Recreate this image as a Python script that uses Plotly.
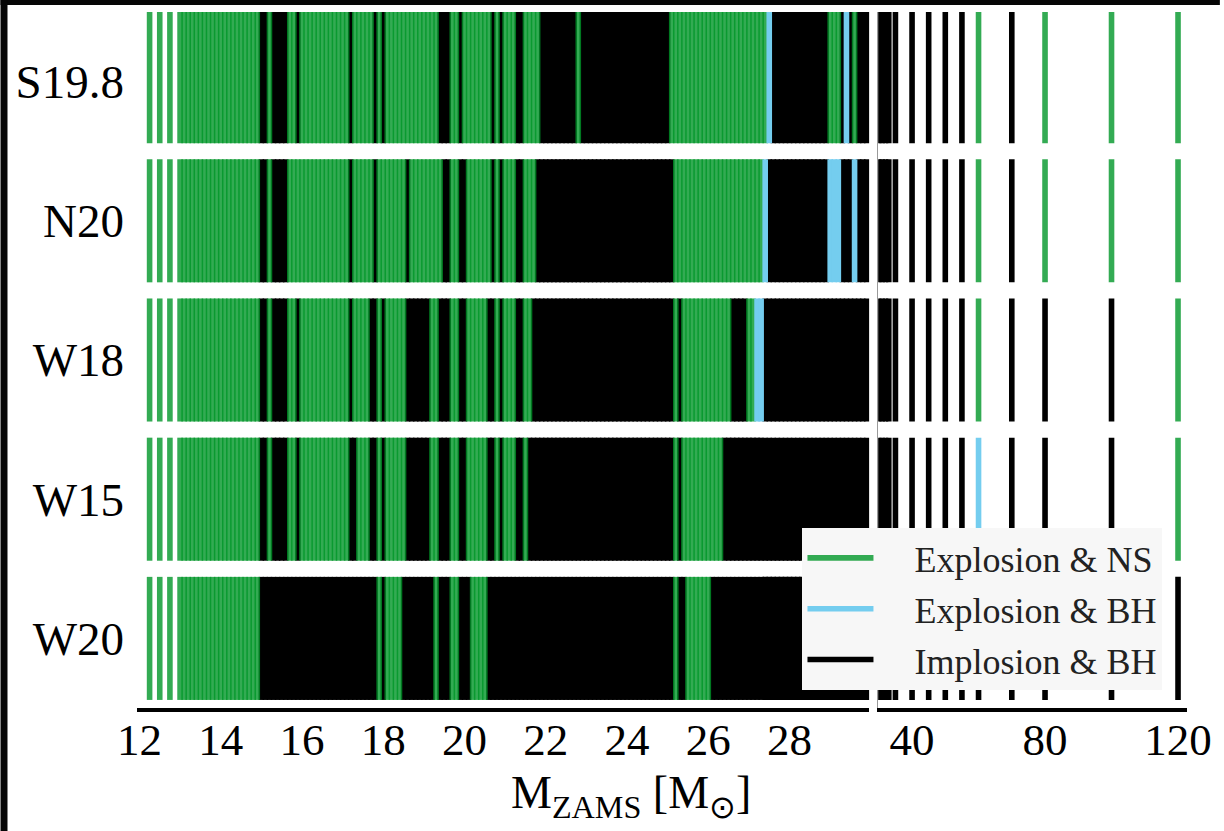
import plotly.graph_objects as go

# ---------------- data ----------------
ENGINES = ["W20", "W15", "W18", "N20", "S19.8"]          # bottom -> top rows

LOW_MASSES = [12.25, 12.5, 12.75]
GRID_MASSES = [
    13.0, 13.1, 13.2, 13.3, 13.4, 13.5, 13.6, 13.7, 13.8, 13.9,
    14.0, 14.1, 14.2, 14.3, 14.4, 14.5, 14.6, 14.7, 14.8, 14.9,
    15.0, 15.1, 15.2, 15.3, 15.4, 15.5, 15.6, 15.7, 15.8, 15.9,
    16.0, 16.1, 16.2, 16.3, 16.4, 16.5, 16.6, 16.7, 16.8, 16.9,
    17.0, 17.1, 17.2, 17.3, 17.4, 17.5, 17.6, 17.7, 17.8, 17.9,
    18.0, 18.1, 18.2, 18.3, 18.4, 18.5, 18.6, 18.7, 18.8, 18.9,
    19.0, 19.1, 19.2, 19.3, 19.4, 19.5, 19.6, 19.7, 19.8, 19.9,
    20.0, 20.1, 20.2, 20.3, 20.4, 20.5, 20.6, 20.7, 20.8, 20.9,
    21.0, 21.1, 21.2, 21.3, 21.4, 21.5, 21.6, 21.7, 21.8, 21.9,
    22.0, 22.1, 22.2, 22.3, 22.4, 22.5, 22.6, 22.7, 22.8, 22.9,
    23.0, 23.1, 23.2, 23.3, 23.4, 23.5, 23.6, 23.7, 23.8, 23.9,
    24.0, 24.1, 24.2, 24.3, 24.4, 24.5, 24.6, 24.7, 24.8, 24.9,
    25.0, 25.1, 25.2, 25.3, 25.4, 25.5, 25.6, 25.7, 25.8, 25.9,
    26.0, 26.1, 26.2, 26.3, 26.4, 26.5, 26.6, 26.7, 26.8, 26.9,
    27.0, 27.1, 27.2, 27.3, 27.4, 27.5, 27.6, 27.7, 27.8, 27.9,
    28.0, 28.1, 28.2, 28.3, 28.4, 28.5, 28.6, 28.7, 28.8, 28.9,
    29.0, 29.1, 29.2, 29.3, 29.4, 29.5, 29.6, 29.7, 29.8, 29.9,
    30.0,
]
HIGH_MASSES = [31, 32, 33, 35, 40, 45, 50, 55, 60, 70, 80, 100, 120]

# outcome runs (first mass, last mass, code): G = explosion & NS,
# B = explosion & BH, K = implosion & BH
RUNS_S198 = [
    (12.25, 14.9, "G"), (15.0, 15.1, "K"), (15.2, 15.2, "G"), (15.3, 15.6, "K"),
    (15.7, 15.8, "G"), (15.9, 15.9, "K"), (16.0, 17.1, "G"), (17.2, 17.2, "K"),
    (17.3, 17.7, "G"), (17.8, 17.8, "K"), (17.9, 17.9, "G"), (18.0, 18.0, "K"),
    (18.1, 19.3, "G"), (19.4, 19.6, "K"), (19.7, 19.8, "G"), (19.9, 19.9, "K"),
    (20.0, 20.6, "G"), (20.7, 20.7, "K"), (20.8, 20.8, "G"), (20.9, 20.9, "K"),
    (21.0, 21.2, "G"), (21.3, 21.4, "K"), (21.5, 21.8, "G"), (21.9, 22.7, "K"),
    (22.8, 22.8, "G"), (22.9, 25.0, "K"), (25.1, 27.4, "G"), (27.5, 27.5, "B"),
    (27.6, 28.9, "K"), (29.0, 29.2, "G"), (29.3, 29.3, "K"), (29.4, 29.4, "B"),
    (29.5, 29.5, "K"), (29.6, 29.6, "G"), (29.7, 30.0, "K"),
]
RUNS_N20 = [
    (12.25, 14.9, "G"), (15.0, 15.1, "K"), (15.2, 15.2, "G"), (15.3, 15.6, "K"),
    (15.7, 17.1, "G"), (17.2, 17.2, "K"), (17.3, 17.7, "G"), (17.8, 17.8, "K"),
    (17.9, 18.5, "G"), (18.6, 18.6, "K"), (18.7, 19.4, "G"), (19.5, 19.6, "K"),
    (19.7, 19.8, "G"), (19.9, 20.0, "K"), (20.1, 20.6, "G"), (20.7, 20.7, "K"),
    (20.8, 20.8, "G"), (20.9, 20.9, "K"), (21.0, 21.2, "G"), (21.3, 21.4, "K"),
    (21.5, 21.7, "G"), (21.8, 25.1, "K"), (25.2, 27.3, "G"), (27.4, 27.4, "B"),
    (27.5, 28.9, "K"), (29.0, 29.2, "B"), (29.3, 29.5, "K"), (29.6, 29.6, "B"),
    (29.7, 30.0, "K"),
]
RUNS_W18 = [
    (12.25, 14.9, "G"), (15.0, 15.1, "K"), (15.2, 15.2, "G"), (15.3, 15.6, "K"),
    (15.7, 15.8, "G"), (15.9, 15.9, "K"), (16.0, 17.1, "G"), (17.2, 17.2, "K"),
    (17.3, 17.6, "G"), (17.7, 17.8, "K"), (17.9, 17.9, "G"), (18.0, 18.0, "K"),
    (18.1, 18.5, "G"), (18.6, 19.1, "K"), (19.2, 19.3, "G"), (19.4, 19.6, "K"),
    (19.7, 19.8, "G"), (19.9, 20.0, "K"), (20.1, 20.5, "G"), (20.6, 20.7, "K"),
    (20.8, 20.8, "G"), (20.9, 20.9, "K"), (21.0, 21.2, "G"), (21.3, 21.4, "K"),
    (21.5, 21.6, "G"), (21.7, 25.1, "K"), (25.2, 25.2, "G"), (25.3, 25.3, "K"),
    (25.4, 26.5, "G"), (26.6, 26.9, "K"), (27.0, 27.1, "G"), (27.2, 27.3, "B"),
    (27.4, 30.0, "K"),
]
RUNS_W15 = [
    (12.25, 14.9, "G"), (15.0, 15.1, "K"), (15.2, 15.2, "G"), (15.3, 15.6, "K"),
    (15.7, 15.8, "G"), (15.9, 15.9, "K"), (16.0, 17.1, "G"), (17.2, 17.3, "K"),
    (17.4, 17.6, "G"), (17.7, 17.8, "K"), (17.9, 17.9, "G"), (18.0, 18.0, "K"),
    (18.1, 18.5, "G"), (18.6, 19.1, "K"), (19.2, 19.3, "G"), (19.4, 19.6, "K"),
    (19.7, 19.8, "G"), (19.9, 20.0, "K"), (20.1, 20.5, "G"), (20.6, 20.7, "K"),
    (20.8, 20.8, "G"), (20.9, 20.9, "K"), (21.0, 21.2, "G"), (21.3, 21.4, "K"),
    (21.5, 21.5, "G"), (21.6, 25.1, "K"), (25.2, 25.2, "G"), (25.3, 25.3, "K"),
    (25.4, 26.3, "G"), (26.4, 30.0, "K"),
]
RUNS_W20 = [
    (12.25, 14.9, "G"), (15.0, 17.8, "K"), (17.9, 17.9, "G"), (18.0, 18.0, "K"),
    (18.1, 18.4, "G"), (18.5, 19.2, "K"), (19.3, 19.3, "G"), (19.4, 19.6, "K"),
    (19.7, 19.8, "G"), (19.9, 20.1, "K"), (20.2, 20.5, "G"), (20.6, 25.1, "K"),
    (25.2, 25.2, "G"), (25.3, 25.4, "K"), (25.5, 26.0, "G"), (26.1, 30.0, "K"),
]
# outcomes for HIGH_MASSES
HIGH_S198 = ["K", "K", "K", "K", "K", "K", "K", "K", "G", "K", "G", "G", "G"]
HIGH_N20 = ["K", "K", "K", "K", "K", "K", "K", "K", "G", "K", "G", "G", "G"]
HIGH_W18 = ["K", "K", "K", "K", "K", "K", "K", "K", "G", "K", "K", "K", "G"]
HIGH_W15 = ["K", "K", "K", "K", "K", "K", "K", "K", "B", "K", "K", "K", "G"]
HIGH_W20 = ["K", "K", "K", "K", "K", "K", "K", "K", "K", "K", "K", "K", "K"]

ROW_RUNS = {"S19.8": RUNS_S198, "N20": RUNS_N20, "W18": RUNS_W18,
            "W15": RUNS_W15, "W20": RUNS_W20}
ROW_HIGH = {"S19.8": HIGH_S198, "N20": HIGH_N20, "W18": HIGH_W18,
            "W15": HIGH_W15, "W20": HIGH_W20}

OUTCOME_NAMES = {"G": "Explosion & NS", "B": "Explosion & BH", "K": "Implosion & BH"}

LEFT_TICKS = [12, 14, 16, 18, 20, 22, 24, 26, 28]
RIGHT_TICKS = [40, 80, 120]

# ---------------- style ----------------
COLORS = {"G": "rgba(0,150,40,0.8)", "B": "#74cdef", "K": "#000000"}
RANK = {"G": 1, "B": 2, "K": 3}
LINE_W = 5.6
ROW_HALF = 0.442
Y_RANGE = [-0.5, 4.5]
LEFT_RANGE = [11.94, 29.96]
RIGHT_RANGE = [29.81, 122.7]
BREAK_MASS = 30.0
SERIF = "Liberation Serif, Times New Roman, serif"
LEGEND_PAD = "\u00a0\u00a0\u00a0\u00a0"


def outcomes(engine):
    res = []
    for m in LOW_MASSES + GRID_MASSES:
        for lo, hi, c in ROW_RUNS[engine]:
            if lo - 1e-6 <= m <= hi + 1e-6:
                res.append((m, c))
                break
    for m, c in zip(HIGH_MASSES, ROW_HIGH[engine]):
        res.append((m, c))
    return res


def row_extent(i):
    lo = i - ROW_HALF
    hi = i + ROW_HALF if i < len(ENGINES) - 1 else Y_RANGE[1] + 0.1
    return lo, hi


fig = go.Figure()
legend_done = set()


def add_lines(code, panel, per_line):
    xa, ya = ("x", "y") if panel == 0 else ("x2", "y2")
    segs = []
    for i, eng in enumerate(ENGINES):
        y0, y1 = row_extent(i)
        for m, c in outcomes(eng):
            if c != code:
                continue
            on_right = m >= BREAK_MASS - 1e-6
            if on_right != (panel == 1):
                continue
            segs.append((m, y0, y1))
    if not segs:
        return
    groups = [[s] for s in segs] if per_line else [segs]
    for g in groups:
        xs, ys = [], []
        for m, y0, y1 in g:
            xs += [m, m, None]
            ys += [y0, y1, None]
        show = code not in legend_done
        legend_done.add(code)
        fig.add_trace(go.Scatter(
            x=xs, y=ys, xaxis=xa, yaxis=ya, mode="lines",
            line=dict(color=COLORS[code], width=LINE_W),
            name=LEGEND_PAD + OUTCOME_NAMES[code], legendgroup=code,
            legendrank=RANK[code], showlegend=show, hoverinfo="skip"))


for code, per_line in (("K", False), ("G", True), ("B", False)):
    for panel in (0, 1):
        add_lines(code, panel, per_line)

W, H = 1224, 831
L, R, T, B = 137, 33, 12, 123
pw = W - L - R
ph = H - T - B


def px_x(p):
    return (p - L) / pw


def px_y(p):
    return (H - B - p) / ph


XTICKFONT = dict(size=45, family=SERIF, color="black")

fig.update_layout(
    width=W, height=H,
    margin=dict(l=L, r=R, t=T, b=B, pad=0),
    paper_bgcolor="white", plot_bgcolor="white",
    font=dict(family=SERIF, color="black"),
    xaxis=dict(domain=[0, px_x(872)], range=LEFT_RANGE, anchor="y",
               tickvals=LEFT_TICKS, ticks="", showgrid=False, zeroline=False,
               showline=True, linecolor="black", linewidth=4,
               ticklabelstandoff=-11, tickfont=XTICKFONT),
    xaxis2=dict(domain=[px_x(881), 1], range=RIGHT_RANGE, anchor="y2",
                tickvals=RIGHT_TICKS, ticks="", showgrid=False, zeroline=False,
                showline=True, linecolor="black", linewidth=4,
                ticklabelstandoff=-11, tickfont=XTICKFONT),
    yaxis=dict(range=Y_RANGE, anchor="x", tickvals=list(range(len(ENGINES))),
               ticktext=ENGINES, ticks="", showgrid=False, zeroline=False,
               showline=False, ticklabelstandoff=12,
               tickfont=dict(size=47, family=SERIF, color="black")),
    yaxis2=dict(range=Y_RANGE, anchor="x2", matches="y", showticklabels=False,
                ticks="", showgrid=False, zeroline=False,
                showline=True, linecolor="#9a9a9a", linewidth=1),
    legend=dict(x=px_x(805), y=px_y(528), xanchor="left", yanchor="top",
                bgcolor="#f7f7f7", borderwidth=0, tracegroupgap=1,
                itemwidth=66,
                font=dict(size=36, family=SERIF, color="#222")),
    showlegend=True,
)

fig.add_annotation(
    x=px_x(633), y=px_y(765), xref="paper", yref="paper",
    xanchor="center", yanchor="top", showarrow=False,
    text="M<sub>ZAMS</sub> [M<sub>⊙</sub>]",
    font=dict(size=46, family=SERIF, color="black"))

# dark frame visible along the top and left edges of the reference image
fig.add_shape(type="rect", xref="paper", yref="paper",
              x0=px_x(0), x1=px_x(W), y0=px_y(5), y1=px_y(0),
              fillcolor="#060606", line=dict(width=0), layer="above")
fig.add_shape(type="rect", xref="paper", yref="paper",
              x0=px_x(0), x1=px_x(7), y0=px_y(H), y1=px_y(0),
              fillcolor="#060606", line=dict(width=0), layer="above")

fig.write_html("out.html")
